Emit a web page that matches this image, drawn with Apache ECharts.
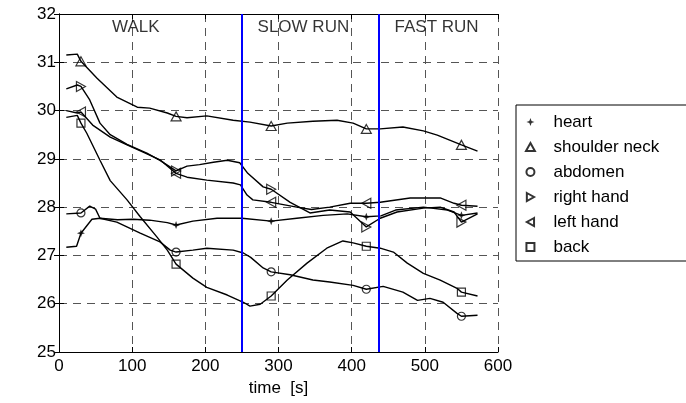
<!DOCTYPE html>
<html>
<head>
<meta charset="utf-8">
<script src="https://cdn.jsdelivr.net/npm/echarts@6/dist/echarts.min.js"></script>
<style>
html,body{margin:0;padding:0;background:#fff;}
#chart{width:686px;height:403px;}
</style>
</head>
<body>
<div id="chart"></div>
<script>
// ---- data ----
const xTicks = [0, 600, 100];          // min, max, interval (time, s)
const yTicks = [25, 32, 1];            // min, max, interval (temperature)
const phaseBoundaries = [250, 437];
const phaseNames = ['WALK', 'SLOW RUN', 'FAST RUN'];
const phaseLabelTimes = [105, 334, 516];
const phaseLabelLevel = 31.73;
const markerTimes = [30, 160, 290, 420, 550];
const seriesNames = ['heart', 'shoulder neck', 'abdomen', 'right hand', 'left hand', 'back'];

const heart = [[10,27.17],[24,27.19],[30,27.46],[45,27.75],[56,27.77],[80,27.74],[101,27.75],[124,27.73],[148,27.68],[160,27.63],[183,27.71],[216,27.77],[250,27.77],[290,27.71],[325,27.77],[361,27.83],[394,27.86],[420,27.8],[440,27.82],[460,27.94],[498,28.0],[531,27.94],[550,27.83],[572,27.88]];
const shoulderNeck = [[10,31.15],[25,31.17],[30,31.02],[52,30.67],[79,30.28],[107,30.07],[124,30.05],[148,29.95],[160,29.88],[175,29.85],[202,29.89],[238,29.8],[261,29.76],[290,29.68],[312,29.74],[347,29.78],[380,29.8],[402,29.74],[420,29.62],[439,29.62],[470,29.66],[498,29.58],[517,29.49],[550,29.29],[572,29.16]];
const abdomen = [[10,27.86],[30,27.88],[42,28.02],[50,27.96],[56,27.77],[79,27.69],[111,27.46],[138,27.28],[152,27.11],[160,27.07],[183,27.11],[202,27.15],[238,27.11],[252,27.05],[262,26.96],[279,26.74],[290,26.66],[316,26.6],[347,26.49],[370,26.45],[402,26.38],[420,26.3],[443,26.36],[470,26.24],[490,26.07],[507,26.11],[525,26.03],[544,25.8],[550,25.74],[572,25.76]];
const rightHand = [[10,30.45],[25,30.53],[30,30.5],[42,30.22],[56,29.74],[70,29.5],[93,29.3],[120,29.12],[138,28.97],[160,28.75],[175,28.85],[192,28.88],[211,28.93],[230,28.97],[247,28.92],[258,28.7],[279,28.42],[290,28.37],[316,28.1],[343,27.88],[370,27.94],[398,27.9],[420,27.59],[439,27.77],[462,27.9],[498,27.98],[521,28.0],[540,27.9],[550,27.69],[572,27.86]];
const leftHand = [[10,30.0],[25,29.95],[30,29.97],[46,29.7],[70,29.45],[93,29.29],[115,29.14],[138,28.98],[160,28.7],[175,28.62],[202,28.56],[238,28.5],[248,28.46],[257,28.25],[265,28.15],[290,28.1],[325,28.0],[345,27.95],[370,28.0],[398,28.08],[420,28.08],[439,28.1],[480,28.19],[521,28.19],[540,28.08],[550,28.04],[572,28.02]];
const back = [[10,29.86],[25,29.9],[30,29.74],[38,29.53],[56,28.97],[70,28.55],[93,28.15],[111,27.8],[134,27.38],[148,27.11],[160,26.82],[183,26.53],[202,26.34],[230,26.18],[252,26.03],[261,25.95],[275,25.99],[290,26.16],[312,26.49],[339,26.84],[366,27.15],[388,27.3],[402,27.26],[420,27.19],[439,27.15],[457,27.07],[476,26.84],[498,26.63],[521,26.49],[544,26.32],[550,26.24],[572,26.16]];

const allData = [heart, shoulderNeck, abdomen, rightHand, leftHand, back];

// ---- styles ----
const FONT = 'Liberation Sans, Arial, sans-serif';
const symbols = [
  'path://M5,0 L6.4,3.6 L10,5 L6.4,6.4 L5,10 L3.6,6.4 L0,5 L3.6,3.6 Z',
  'path://M5,0 L10,9 L0,9 Z',
  'circle',
  'path://M0,0 L9,5 L0,10 Z',
  'path://M9,0 L0,5 L9,10 Z',
  'path://M0,0 L10,0 L10,10 L0,10 Z'
];
const symbolSizes = [8, 10, 8, 10, 10, 8];
const hollow = [false, true, true, true, true, true];

const chart = echarts.init(document.getElementById('chart'), null, {renderer: 'canvas'});

const series = [];
allData.forEach((d, i) => {
  series.push({
    name: seriesNames[i] + ' curve',
    type: 'line',
    data: d,
    showSymbol: false,
    symbol: 'none',
    lineStyle: {color: '#000', width: 1.4},
    z: 3,
    silent: true,
    animation: false,
    markLine: i === 0 ? {
      silent: true,
      symbol: 'none',
      label: {show: false},
      lineStyle: {color: '#0000ff', width: 2, type: 'solid'},
      data: phaseBoundaries.map(t => ({xAxis: t}))
    } : undefined
  });
});
allData.forEach((d, i) => {
  series.push({
    name: seriesNames[i],
    type: 'scatter',
    data: d.filter(p => markerTimes.indexOf(p[0]) >= 0),
    symbol: symbols[i],
    symbolSize: symbolSizes[i],
    symbolKeepAspect: true,
    itemStyle: hollow[i]
      ? {color: 'rgba(0,0,0,0)', borderColor: '#000', borderWidth: 1.2}
      : {color: '#000', borderColor: '#000', borderWidth: 0},
    z: 5,
    animation: false
  });
});
series.push({
  name: 'phases',
  type: 'scatter',
  data: phaseNames.map((n, i) => ({value: [phaseLabelTimes[i], phaseLabelLevel], name: n})),
  symbolSize: 0,
  label: {show: true, position: 'inside', formatter: p => p.name, color: '#000', fontSize: 17, fontFamily: FONT},
  silent: true,
  z: 6,
  animation: false
});

const axisLineStyle = {show: true, lineStyle: {color: '#000', width: 1}};
const gridLine = {show: true, lineStyle: {color: '#555', width: 1, type: [8, 6]}};

const option = {
  backgroundColor: '#fff',
  animation: false,
  grid: {left: 59, right: 188, top: 14, bottom: 51, containLabel: false},
  xAxis: [{
    type: 'value', min: xTicks[0], max: xTicks[1], interval: xTicks[2],
    position: 'bottom',
    name: 'time  [s]', nameLocation: 'middle', nameGap: 28,
    nameTextStyle: {color: '#000', fontSize: 17, fontFamily: FONT},
    axisLine: axisLineStyle,
    axisTick: {show: true, inside: true, length: 5, lineStyle: {color: '#000'}},
    axisLabel: {color: '#000', fontSize: 17, fontFamily: FONT, margin: 6},
    splitLine: gridLine
  }, {
    type: 'value', min: xTicks[0], max: xTicks[1], interval: xTicks[2],
    position: 'top',
    axisLine: axisLineStyle,
    axisTick: {show: true, inside: true, length: 5, lineStyle: {color: '#000'}},
    axisLabel: {show: false},
    splitLine: {show: false}
  }],
  yAxis: [{
    type: 'value', min: yTicks[0], max: yTicks[1], interval: yTicks[2],
    position: 'left',
    axisLine: axisLineStyle,
    axisTick: {show: true, inside: true, length: 5, lineStyle: {color: '#000'}},
    axisLabel: {color: '#000', fontSize: 17, fontFamily: FONT, margin: 3},
    splitLine: gridLine
  }, {
    type: 'value', min: yTicks[0], max: yTicks[1], interval: yTicks[2],
    position: 'right',
    axisLine: axisLineStyle,
    axisTick: {show: true, inside: true, length: 5, lineStyle: {color: '#000'}},
    axisLabel: {show: false},
    splitLine: {show: false}
  }],
  legend: {
    data: seriesNames,
    orient: 'vertical',
    left: 516, top: 105,
    padding: [7, 40, 4, 9],
    itemWidth: 36, itemHeight: 8,
    itemGap: 5,
    backgroundColor: '#fff',
    borderColor: '#000', borderWidth: 1, borderRadius: 0,
    selectedMode: false,
    textStyle: {color: '#000', fontSize: 17, fontFamily: FONT, lineHeight: 20}
  },
  series: series
};
chart.setOption(option);
</script>
</body>
</html>
